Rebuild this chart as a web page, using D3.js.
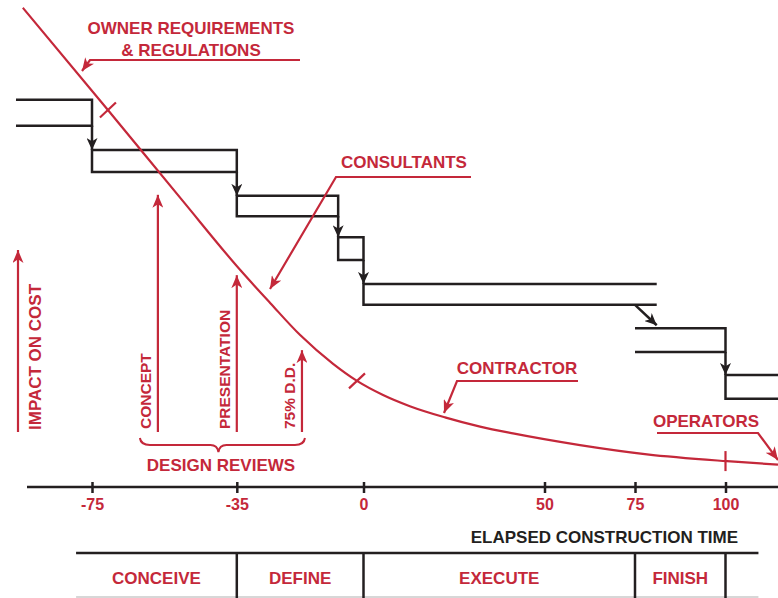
<!DOCTYPE html>
<html>
<head>
<meta charset="utf-8">
<script src="https://cdn.jsdelivr.net/npm/d3@7"></script>
<style>
  body { margin: 0; background: #fff; }
  svg text { font-family: "Liberation Sans", Arial, Helvetica, sans-serif; font-weight: bold; }
</style>
</head>
<body>
<svg id="chart" width="778" height="598"></svg>
<script>
// elapsed construction time ticks
var timeTicks = [-75, -35, 0, 50, 75, 100];

// impact on cost curve
var curveTime   = [-94.1, -70.6, -50.1, -34.1, -25.8, -17.5, -8.4, -1.8, 5.4, 12.8, 22.5, 32.2, 41.3, 59.8, 78.3, 100.4, 114.5];
var curveImpact = [98.4, 77.4, 58.9, 44.6, 37.8, 31.2, 25.3, 21.8, 18.9, 16.6, 14.3, 12.4, 11.0, 8.6, 6.7, 5.3, 4.6];
var curveMarks  = [-70.6, -1.8, 100];

// stepped boxes
var stepStart  = [-96, -75, -35, -7, 0, 75, 100];
var stepEnd    = [-75, -35, -7, 0, 81, 100, 116];
var stepTop    = [79.5, 69.2, 59.8, 51.3, 41.7, 32.6, 23.0];
var stepBottom = [74.2, 64.7, 55.6, 46.6, 37.4, 27.7, 18.1];

// design reviews
var reviewLabels = ["CONCEPT", "PRESENTATION", "75% D.D."];
var reviewTime   = [-56.8, -35, -17];
var reviewHeight = [60, 43.5, 28.1];

// phases table
var phaseLabels = ["CONCEIVE", "DEFINE", "EXECUTE", "FINISH", ""];
var phaseBounds = [-79.4, -35, 0, 75, 100, 109.1];

var red = "#c4283a", ink = "#231f20";

var svg = d3.select("#chart");
var x = d3.scaleLinear().domain([-75, 100]).range([92, 725.5]);
var y = d3.scaleLinear().domain([0, 100]).range([487, 0]);

var defs = svg.append("defs");
function marker(id, color, len, half) {
  defs.append("marker")
    .attr("id", id)
    .attr("markerUnits", "userSpaceOnUse")
    .attr("viewBox", [-len, -half, len, half * 2].join(" "))
    .attr("refX", 0).attr("refY", 0)
    .attr("markerWidth", len).attr("markerHeight", half * 2)
    .attr("orient", "auto")
    .append("path")
    .attr("d", "M0,0L" + (-len) + "," + (-half) + "L" + (-len * 0.72) + ",0L" + (-len) + "," + half + "Z")
    .attr("fill", color);
}
marker("redArrow", red, 13, 5.5);
marker("inkArrow", ink, 12, 5.5);

// ---- stepped boxes
var boxes = svg.append("g").attr("fill", "none").attr("stroke", ink).attr("stroke-width", 2.5);
var n = stepStart.length;
d3.range(n).forEach(function(i) {
  var x0 = x(stepStart[i]), x1 = x(stepEnd[i]), t = y(stepTop[i]), b = y(stepBottom[i]);
  var hasLeft = i > 0 && stepStart[i] === stepEnd[i - 1];
  var hasRight = i < n - 1 && stepEnd[i] === stepStart[i + 1];
  var d;
  if (hasLeft && hasRight) d = "M" + x0 + "," + t + "H" + x1 + "V" + b + "H" + x0 + "Z";
  else if (hasLeft) d = "M" + x1 + "," + t + "H" + x0 + "V" + b + "H" + x1;
  else if (hasRight) d = "M" + x0 + "," + t + "H" + x1 + "V" + b + "H" + x0;
  else d = "M" + x0 + "," + t + "H" + x1 + "M" + x0 + "," + b + "H" + x1;
  boxes.append("path").attr("d", d);

  if (i < n - 1) {
    if (hasRight) {
      boxes.append("line")
        .attr("x1", x1).attr("x2", x1)
        .attr("y1", b).attr("y2", y(stepTop[i + 1]))
        .attr("marker-end", "url(#inkArrow)");
    } else {
      boxes.append("line")
        .attr("x1", x(stepStart[i + 1])).attr("y1", b)
        .attr("x2", x1).attr("y2", y(stepTop[i + 1]) - 3)
        .attr("marker-end", "url(#inkArrow)");
    }
  }
});

// ---- impact curve
var curvePts = curveTime.map(function(t, i) { return [t, curveImpact[i]]; });
var line = d3.line().x(function(d) { return x(d[0]); }).y(function(d) { return y(d[1]); })
  .curve(d3.curveMonotoneX);
var curvePath = svg.append("path").datum(curvePts)
  .attr("d", line).attr("fill", "none").attr("stroke", red).attr("stroke-width", 2.2);

function pointAtX(px) {
  var node = curvePath.node(), lo = 0, hi = node.getTotalLength();
  for (var k = 0; k < 40; k++) {
    var mid = (lo + hi) / 2;
    if (node.getPointAtLength(mid).x < px) lo = mid; else hi = mid;
  }
  return node.getPointAtLength(lo);
}
curveMarks.forEach(function(t) {
  var p = pointAtX(x(t));
  var seg = t < 50 ? [p.x - 8, p.y + 7.5, p.x + 8, p.y - 7.5] : [p.x, p.y - 10, p.x, p.y + 10];
  svg.append("line")
    .attr("x1", seg[0]).attr("y1", seg[1]).attr("x2", seg[2]).attr("y2", seg[3])
    .attr("stroke", red).attr("stroke-width", 2.2);
});

// ---- axis
svg.append("line")
  .attr("x1", 27).attr("x2", 778).attr("y1", y(0)).attr("y2", y(0))
  .attr("stroke", ink).attr("stroke-width", 2.5);
var axis = svg.append("g")
  .attr("transform", "translate(0," + y(0) + ")")
  .call(d3.axisBottom(x).tickValues(timeTicks).tickSize(6).tickFormat(function(d) { return String(d); }));
axis.attr("font-family", null).attr("font-size", null);
axis.select(".domain").remove();
axis.selectAll(".tick line").attr("y1", -5).attr("y2", 6).attr("stroke", ink).attr("stroke-width", 2.5);
axis.selectAll(".tick text")
  .attr("fill", red).attr("font-size", 16).attr("y", 23).attr("dy", 0);

svg.append("text")
  .attr("x", 738).attr("y", 543).attr("text-anchor", "end")
  .attr("font-size", 17).attr("fill", ink)
  .text("ELAPSED CONSTRUCTION TIME");

// ---- phases table
var tableTop = 553, tableBottom = 597;
svg.append("line")
  .attr("x1", x(phaseBounds[0])).attr("x2", x(phaseBounds[phaseBounds.length - 1]))
  .attr("y1", tableTop).attr("y2", tableTop)
  .attr("stroke", ink).attr("stroke-width", 2.5);
svg.append("line")
  .attr("x1", x(phaseBounds[0])).attr("x2", x(phaseBounds[phaseBounds.length - 1]))
  .attr("y1", tableBottom).attr("y2", tableBottom)
  .attr("stroke", "#b0b0b0").attr("stroke-width", 1.2);
svg.selectAll(".divider").data(phaseBounds.slice(1, -1)).enter().append("line")
  .attr("x1", function(d) { return x(d); }).attr("x2", function(d) { return x(d); })
  .attr("y1", tableTop).attr("y2", 598)
  .attr("stroke", ink).attr("stroke-width", 2.5);
svg.selectAll(".phase").data(phaseLabels).enter().append("text")
  .attr("x", function(d, i) { return (x(phaseBounds[i]) + x(phaseBounds[i + 1])) / 2; })
  .attr("y", 584).attr("text-anchor", "middle")
  .attr("font-size", 17).attr("fill", red)
  .text(function(d) { return d; });

// ---- design reviews
var reviewBase = 432;
reviewTime.forEach(function(t, i) {
  svg.append("line")
    .attr("x1", x(t)).attr("x2", x(t))
    .attr("y1", reviewBase).attr("y2", y(reviewHeight[i]))
    .attr("stroke", red).attr("stroke-width", 2.2)
    .attr("marker-end", "url(#redArrow)");
  svg.append("text")
    .attr("transform", "translate(" + (x(t) - 7) + "," + (reviewBase - 3) + ") rotate(-90)")
    .attr("font-size", 15.5).attr("fill", red)
    .text(reviewLabels[i]);
});

// brace under the reviews
var bl = x(reviewTime[0]) - 18, br = x(reviewTime[2]) + 3, bm = (bl + br) / 2 - 4, by = 445;
svg.append("path")
  .attr("d", "M" + bl + "," + (by - 7) + "Q" + (bl + 1) + "," + by + " " + (bl + 10) + "," + by +
             "L" + (bm - 8) + "," + by + "Q" + (bm - 1) + "," + by + " " + bm + "," + (by + 7) +
             "Q" + (bm + 1) + "," + by + " " + (bm + 8) + "," + by +
             "L" + (br - 10) + "," + by + "Q" + (br - 1) + "," + by + " " + br + "," + (by - 7))
  .attr("fill", "none").attr("stroke", red).attr("stroke-width", 2);
svg.append("text")
  .attr("x", 221).attr("y", 471).attr("text-anchor", "middle")
  .attr("font-size", 17).attr("fill", red)
  .text("DESIGN REVIEWS");

// impact on cost axis label
svg.append("line")
  .attr("x1", 18).attr("x2", 18).attr("y1", 432).attr("y2", 250)
  .attr("stroke", red).attr("stroke-width", 2.2)
  .attr("marker-end", "url(#redArrow)");
svg.append("text")
  .attr("transform", "translate(41,430) rotate(-90)")
  .attr("font-size", 17).attr("fill", red)
  .text("IMPACT ON COST");

// ---- callouts
var callouts = [
  { lines: ["OWNER REQUIREMENTS", "& REGULATIONS"], cx: 191, cy: 34, path: [[300, 60], [90, 60], [82, 71]] },
  { lines: ["CONSULTANTS"], cx: 404, cy: 168, path: [[471, 177], [336, 177], [270, 289]] },
  { lines: ["CONTRACTOR"], cx: 517, cy: 374, path: [[578, 381], [457, 381], [444, 413]] },
  { lines: ["OPERATORS"], cx: 706, cy: 427, path: [[657, 433], [758, 433], [778, 460]] }
];
callouts.forEach(function(c) {
  c.lines.forEach(function(l, j) {
    svg.append("text")
      .attr("x", c.cx).attr("y", c.cy + j * 22).attr("text-anchor", "middle")
      .attr("font-size", 17).attr("fill", red)
      .text(l);
  });
  svg.append("path")
    .attr("d", d3.line()(c.path))
    .attr("fill", "none").attr("stroke", red).attr("stroke-width", 2.2)
    .attr("marker-end", "url(#redArrow)");
});
</script>
</body>
</html>
